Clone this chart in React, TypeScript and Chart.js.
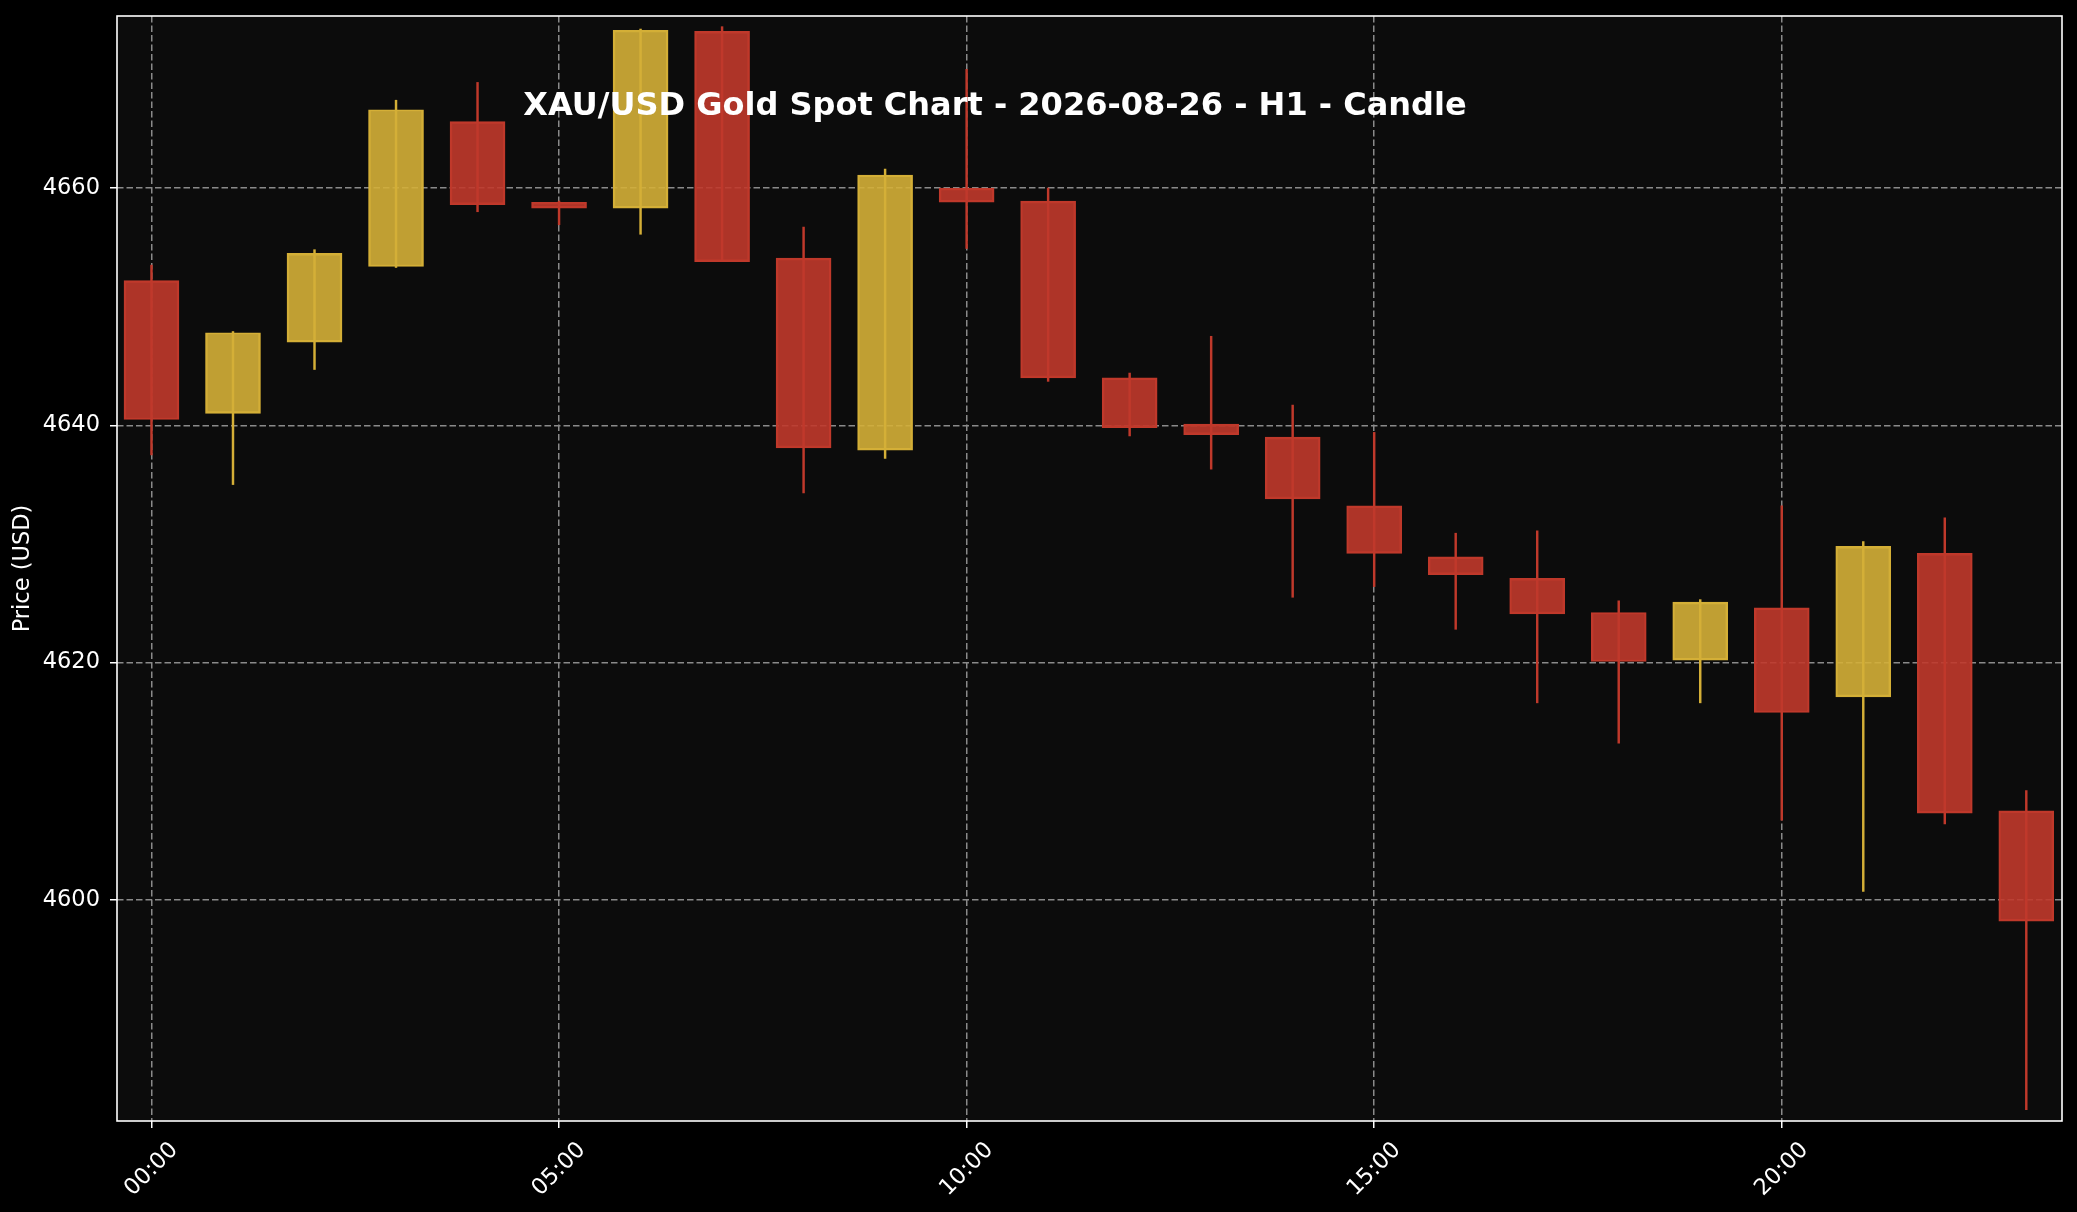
import { useEffect, useRef } from "react"
import Chart from "chart.js/auto"

// hourly candles, 2026-08-26 (x = hour of day)
const hours = [0, 1, 2, 3, 4, 5, 6, 7, 8, 9, 10, 11, 12, 13, 14, 15, 16, 17, 18, 19, 20, 21, 22, 23]
const opens = [
  4652.2, 4641.0, 4647.0, 4653.4, 4665.6, 4658.8, 4658.3, 4673.2, 4654.1, 4637.9, 4660.0, 4658.9,
  4644.0, 4640.1, 4639.0, 4633.2, 4628.9, 4627.1, 4624.2, 4620.2, 4624.6, 4617.1, 4629.2, 4607.5,
]
const closes = [
  4640.5, 4647.8, 4654.5, 4666.6, 4658.6, 4658.3, 4673.3, 4653.8, 4638.1, 4661.1, 4658.8, 4644.0,
  4639.8, 4639.2, 4633.8, 4629.2, 4627.4, 4624.1, 4620.1, 4625.1, 4615.8, 4629.8, 4607.3, 4598.2,
]
const highs = [
  4653.5, 4647.9, 4654.8, 4667.4, 4668.9, 4658.9, 4673.4, 4673.6, 4656.7, 4661.6, 4670.0, 4660.0,
  4644.4, 4647.5, 4641.7, 4639.4, 4630.9, 4631.1, 4625.2, 4625.3, 4633.2, 4630.2, 4632.2, 4609.2,
]
const lows = [
  4637.5, 4635.0, 4644.7, 4653.3, 4658.0, 4656.9, 4656.1, 4653.8, 4634.3, 4637.2, 4654.9, 4643.7,
  4639.1, 4636.3, 4625.5, 4626.4, 4622.8, 4616.6, 4613.2, 4616.6, 4606.7, 4600.7, 4606.4, 4582.3,
]

const tickHours = [0, 5, 10, 15, 20]
const tickLabels = ["00:00", "05:00", "10:00", "15:00", "20:00"]
const priceTicks = [4600, 4620, 4640, 4660]

const TITLE = "XAU/USD Gold Spot Chart - 2026-08-26 - H1 - Candle"
const FONT = "'DejaVu Sans', sans-serif"

const RED = "#c0392b"
const GOLD = "#d4af37"
const RED_FILL = "rgba(192, 57, 43, 0.9)"
const GOLD_FILL = "rgba(212, 175, 55, 0.9)"

const isUp = (i: number) => closes[i] >= opens[i]

const chartBackground = {
  id: "chartBackground",
  beforeDraw(chart: Chart) {
    const { ctx, chartArea } = chart
    ctx.save()
    ctx.fillStyle = "#000000"
    ctx.fillRect(0, 0, chart.width, chart.height)
    ctx.fillStyle = "#0c0c0c"
    ctx.fillRect(chartArea.left, chartArea.top, chartArea.right - chartArea.left, chartArea.bottom - chartArea.top)
    ctx.restore()
  },
}

const frameAndTitle = {
  id: "frameAndTitle",
  afterDraw(chart: Chart) {
    const { ctx, chartArea } = chart
    ctx.save()
    ctx.strokeStyle = "#ffffff"
    ctx.lineWidth = 1.6
    ctx.strokeRect(chartArea.left, chartArea.top, chartArea.right - chartArea.left, chartArea.bottom - chartArea.top)
    ctx.fillStyle = "#ffffff"
    ctx.font = `bold 32px ${FONT}`
    ctx.textAlign = "center"
    ctx.textBaseline = "middle"
    ctx.fillText(TITLE, 995, 107)
    ctx.restore()
  },
}

export default function App() {
  const canvasRef = useRef<HTMLCanvasElement>(null)

  useEffect(() => {
    if (!canvasRef.current) return
    const ctx = canvasRef.current.getContext("2d")
    if (!ctx) return

    const chart = new Chart(ctx, {
      type: "bar",
      data: {
        datasets: [
          {
            label: "Wick",
            data: hours.map((h, i) => ({ x: h, y: [lows[i], highs[i]] })) as any,
            backgroundColor: hours.map((_, i) => (isUp(i) ? GOLD : RED)),
            borderWidth: 0,
            barThickness: 1.8,
            grouped: false,
            order: 2,
          },
          {
            label: "Body",
            data: hours.map((h, i) => ({ x: h, y: [opens[i], closes[i]] })) as any,
            backgroundColor: hours.map((_, i) => (isUp(i) ? GOLD_FILL : RED_FILL)),
            borderColor: hours.map((_, i) => (isUp(i) ? GOLD : RED)),
            borderWidth: 1.8,
            borderSkipped: false,
            barThickness: 55,
            grouped: false,
            order: 1,
          },
        ],
      },
      options: {
        responsive: false,
        animation: false,
        events: [],
        layout: { padding: { left: 0, top: 16, right: 15, bottom: 0 } },
        plugins: {
          legend: { display: false },
          tooltip: { enabled: false },
          title: { display: false },
        },
        scales: {
          x: {
            type: "linear",
            min: -0.423,
            max: 23.438,
            offset: false,
            afterBuildTicks: (scale: any) => {
              scale.ticks = tickHours.map((v) => ({ value: v }))
            },
            afterFit: (scale: any) => {
              scale.height = 91
              scale.paddingLeft = 0
              scale.paddingRight = 0
            },
            grid: {
              offset: false,
              color: "#8a8a8a",
              lineWidth: 1.5,
              drawTicks: true,
              tickLength: 7,
              tickColor: "#ffffff",
              tickWidth: 1.5,
              tickBorderDash: [],
            },
            border: { display: false, dash: [6.5, 3] },
            ticks: {
              color: "#ffffff",
              font: { family: FONT, size: 22.5 },
              minRotation: 45,
              maxRotation: 45,
              padding: 9,
              labelOffset: 23,
              autoSkip: false,
              callback: (value: any) => {
                const k = tickHours.indexOf(Number(value))
                return k >= 0 ? tickLabels[k] : ""
              },
            },
          },
          y: {
            type: "linear",
            min: 4581.35,
            max: 4674.5,
            afterBuildTicks: (scale: any) => {
              scale.ticks = priceTicks.map((v) => ({ value: v }))
            },
            afterFit: (scale: any) => {
              scale.width = 117
              scale.paddingTop = 0
              scale.paddingBottom = 0
            },
            grid: {
              color: "#8a8a8a",
              lineWidth: 1.5,
              drawTicks: true,
              tickLength: 7,
              tickColor: "#ffffff",
              tickWidth: 1.5,
              tickBorderDash: [],
            },
            border: { display: false, dash: [6.5, 3] },
            ticks: {
              color: "#ffffff",
              font: { family: FONT, size: 22.5 },
              padding: 10,
              callback: (value: any) => String(value),
            },
            title: {
              display: true,
              text: "Price (USD)",
              color: "#ffffff",
              font: { family: FONT, size: 22.5 },
              padding: { top: 10, bottom: 0 },
            },
          },
        },
      },
      plugins: [chartBackground, frameAndTitle],
    })

    return () => {
      chart.destroy()
    }
  }, [])

  return (
    <div style={{ position: "fixed", left: 0, top: 0, width: 2077, height: 1212, background: "#000000" }}>
      <canvas ref={canvasRef} width={2077} height={1212} />
    </div>
  )
}
